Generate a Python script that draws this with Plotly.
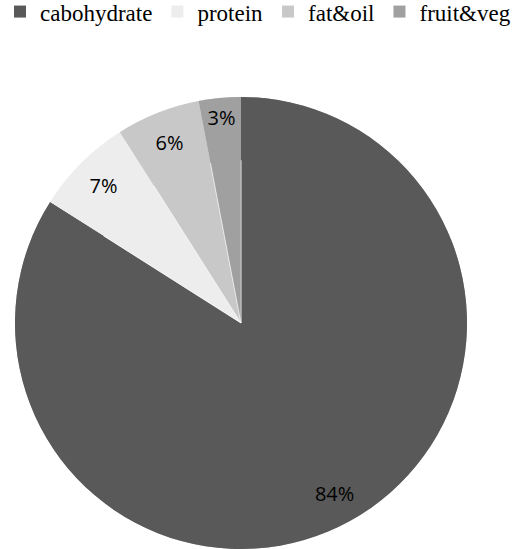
import plotly.graph_objects as go

categories = ["cabohydrate", "protein", "fat&oil", "fruit&veg"]
values = [84, 7, 6, 3]
colors = ["#595959", "#ededed", "#c8c8c8", "#a0a0a0"]

SERIF = "Times New Roman, Liberation Serif, serif"
dom = dict(x=[15/516, 467/516], y=[0, (549-97)/549])

fig = go.Figure()
# full pie (fill)
fig.add_trace(go.Pie(
    labels=categories, values=values, sort=False, direction="clockwise", rotation=0,
    marker=dict(colors=colors, line=dict(color="white", width=0.5)),
    textinfo="none",
    domain=dom, showlegend=False, hoverinfo="label+percent",
))
# ring carrying the labels near the rim; also carries the legend
fig.add_trace(go.Pie(
    labels=categories, values=values, sort=False, direction="clockwise", rotation=0,
    hole=0.72,
    marker=dict(colors=colors, line=dict(color="white", width=0)),
    texttemplate="%{percent:.0%}",
    textposition="inside",
    insidetextorientation="horizontal",
    textfont=dict(family="Open Sans", size=20, color="black"),
    domain=dom, showlegend=True, hoverinfo="skip",
))

fig.update_layout(
    width=516, height=549,
    margin=dict(l=0, r=0, t=0, b=0, autoexpand=False),
    paper_bgcolor="white",
    plot_bgcolor="white",
    font=dict(family=SERIF, size=23, color="black"),
    legend=dict(
        orientation="h",
        x=0.0, xanchor="left",
        y=1.018, yanchor="top",
        font=dict(family=SERIF, size=23, color="black"),
        itemclick=False,
    ),
)

fig.write_html("out.html")
